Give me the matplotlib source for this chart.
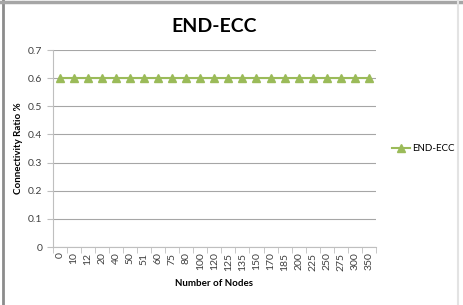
import matplotlib
matplotlib.use("Agg")
import matplotlib.pyplot as plt
from matplotlib.lines import Line2D

nodes = ["0", "10", "12", "20", "40", "50", "51", "60", "75", "80", "100", "120",
         "125", "135", "150", "170", "185", "200", "225", "250", "275", "300", "350"]
ratio = [0.6] * len(nodes)
series_name = "END-ECC"

plt.rcParams['font.family'] = ['Lato', 'DejaVu Sans']

W, H = 464, 305
fig = plt.figure(figsize=(W / 100, H / 100), dpi=100)
# window-style frame: dark left/top edges, light right edge
fig.lines.append(Line2D([2.5 / W, 2.5 / W], [0, 1], transform=fig.transFigure,
                        color='#8c8c8c', linewidth=2))
fig.lines.append(Line2D([0, 1], [1 - 1.5 / H, 1 - 1.5 / H], transform=fig.transFigure,
                        color='#a6a6a6', linewidth=2.5))
fig.lines.append(Line2D([458 / W, 458 / W], [0, 1], transform=fig.transFigure,
                        color='#e3e3e3', linewidth=1.5))

ax = fig.add_axes([0.114, 0.19, 0.696, 0.646])

x = list(range(len(nodes)))
ax.plot(x, ratio, color='#9BBB59', linewidth=1.5, marker='^', markersize=6,
        markerfacecolor='#9BBB59', markeredgecolor='#9BBB59', label=series_name)

ax.set_xlim(-0.5, len(nodes) - 0.5)
ax.set_ylim(0, 0.7)
ax.set_yticks([0, 0.1, 0.2, 0.3, 0.4, 0.5, 0.6, 0.7])
ax.set_yticklabels(["0", "0.1", "0.2", "0.3", "0.4", "0.5", "0.6", "0.7"])
ax.set_xticks(x)
ax.set_xticklabels(nodes, rotation=90)
ax.set_xticks([i - 0.5 for i in range(len(nodes) + 1)], minor=True)
ax.tick_params(axis='x', which='major', length=0, labelsize=7.5, colors='#404040', pad=4)
ax.tick_params(axis='x', which='minor', length=4, color='#bfbfbf')
ax.tick_params(axis='y', length=4, labelsize=7.5, colors='#404040', color='#bfbfbf')

ax.grid(axis='y', color='#a6a6a6', linewidth=0.8)
ax.set_axisbelow(True)
for s in ['top', 'right']:
    ax.spines[s].set_visible(False)
ax.spines['left'].set_color('#bfbfbf')
ax.spines['bottom'].set_color('#bfbfbf')

ax.set_title("END-ECC", fontsize=14, fontweight='bold', pad=13)
ax.set_ylabel("Connectivity Ratio %", fontsize=7, fontweight='bold', labelpad=4)
ax.set_xlabel("Number of Nodes", fontsize=7, fontweight='bold', labelpad=6)

leg = ax.legend(loc='center left', bbox_to_anchor=(1.035, 0.5), frameon=False,
                fontsize=7, handlelength=1.9, handletextpad=0.15, borderpad=0)

fig.savefig("out.png", dpi=100)
